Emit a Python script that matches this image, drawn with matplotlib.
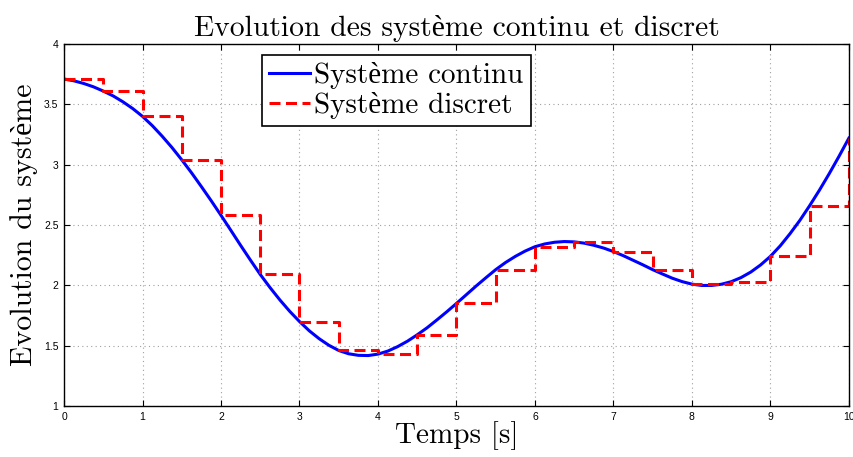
import matplotlib
matplotlib.use("Agg")
import matplotlib.pyplot as plt

# continuous system, every 0.125 s
t_cont = [i * 0.125 for i in range(81)]
y_cont = [3.710, 3.695, 3.673, 3.645, 3.610, 3.570, 3.521, 3.465,
          3.400, 3.323, 3.236, 3.142, 3.040, 2.932, 2.818, 2.701,
          2.580, 2.456, 2.331, 2.209, 2.090, 1.981, 1.879, 1.785,
          1.700, 1.623, 1.558, 1.503, 1.460, 1.433, 1.420, 1.418,
          1.430, 1.455, 1.492, 1.537, 1.590, 1.648, 1.713, 1.780,
          1.850, 1.922, 1.994, 2.063, 2.130, 2.189, 2.240, 2.284,
          2.320, 2.343, 2.357, 2.363, 2.360, 2.350, 2.332, 2.309,
          2.280, 2.246, 2.208, 2.170, 2.130, 2.094, 2.059, 2.031,
          2.010, 1.999, 1.999, 2.009, 2.030, 2.064, 2.110, 2.169,
          2.240, 2.327, 2.428, 2.538, 2.660, 2.789, 2.926, 3.070,
          3.220]

# discrete system (zero-order hold, Te = 0.5 s)
t_disc = [0.0, 0.5, 1.0, 1.5, 2.0, 2.5, 3.0, 3.5, 4.0, 4.5, 5.0, 5.5, 6.0, 6.5,
          7.0, 7.5, 8.0, 8.5, 9.0, 9.5, 10.0]
y_disc = [3.71, 3.61, 3.40, 3.04, 2.58, 2.09, 1.70, 1.46, 1.43, 1.59, 1.85, 2.13,
          2.32, 2.36, 2.28, 2.13, 2.01, 2.03, 2.24, 2.66, 3.22]

x_ticks = [0, 1, 2, 3, 4, 5, 6, 7, 8, 9, 10]
y_ticks = [1, 1.5, 2, 2.5, 3, 3.5, 4]
y_tick_labels = ["1", "1.5", "2", "2.5", "3", "3.5", "4"]

serif = ["cmr10", "Liberation Serif"]

fig = plt.figure(figsize=(8.54, 4.57), dpi=100)
ax = fig.add_axes([0.075, 0.1116, 0.919, 0.7921])

ax.plot(t_cont, y_cont, color="#0000ff", lw=2.2, label="Système continu",
        solid_joinstyle="round")
ax.step(t_disc, y_disc, where="post", color="#ff0000", lw=2.2,
        ls=(0, (3.6, 1.8)), label="Système discret")

ax.set_xlim(0, 10)
ax.set_ylim(1, 4)
ax.set_xticks(x_ticks)
ax.set_yticks(y_ticks)
ax.set_yticklabels(y_tick_labels)
ax.tick_params(direction="in", top=True, right=True, length=4, width=0.8,
               labelsize=7.5, pad=4)
for lbl in ax.get_xticklabels() + ax.get_yticklabels():
    lbl.set_fontfamily("Liberation Sans")
ax.grid(True, color="#a0a0a0", ls=(0, (1, 3)), lw=0.8)
for s in ax.spines.values():
    s.set_linewidth(1.0)

ax.set_title("Evolution des système continu et discret", family=serif,
             fontsize=21.3, pad=6)
ax.set_xlabel("Temps [s]", family=serif, fontsize=21, labelpad=0)
ax.set_ylabel("Evolution du système", family=serif, fontsize=21.5, labelpad=4)

leg = ax.legend(loc="upper left", bbox_to_anchor=(0.252, 0.97),
                borderaxespad=0,
                prop={"family": serif, "size": 21}, fancybox=False,
                edgecolor="black", framealpha=1, handlelength=1.4,
                borderpad=0.25, labelspacing=0.1, handletextpad=0.15)
leg.get_frame().set_linewidth(1.2)

fig.savefig("out.png", dpi=100)
